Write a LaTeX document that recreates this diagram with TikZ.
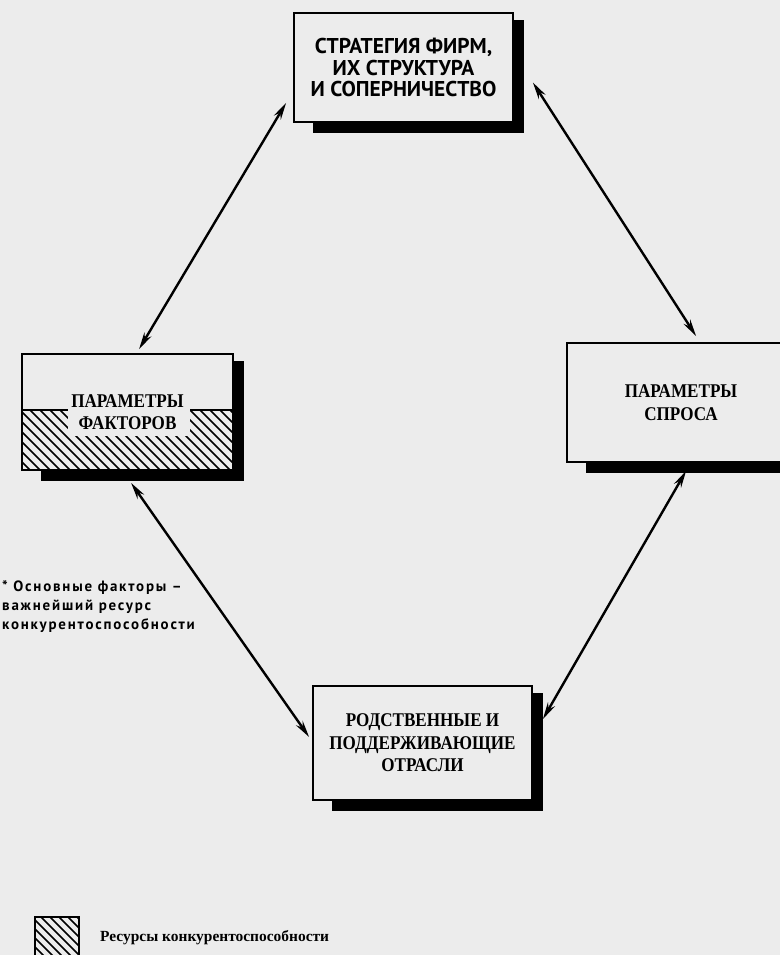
\documentclass[tikz,border=0pt]{standalone}
\usepackage{fontspec}
\setmainfont{Liberation Serif}
\newfontfamily\ptsans{PT Sans}
\newfontfamily\boxserif[FakeStretch=0.88]{Liberation Serif}
\newfontfamily\notefont[LetterSpace=12]{PT Sans}
\usetikzlibrary{arrows.meta,calc}
\definecolor{paper}{RGB}{236,236,236}
\newcommand\boxshadow[1]{%
  \fill[black] ($(#1.north east)+(0,8)$) rectangle ($(#1.south east)+(10,10)$);
  \fill[black] ($(#1.south west)+(20,0)$) rectangle ($(#1.south east)+(10,10)$);}
\begin{document}
\begin{tikzpicture}[x=1bp,y=-1bp,
  box/.style={draw=black, line width=1.8bp, rectangle, align=center,
    inner sep=0pt, font=\boxserif\bfseries\fontsize{19.5}{22.5}\selectfont},
  topfont/.style={font=\ptsans\bfseries\fontsize{21.5}{22}\selectfont},
  conn/.style={line width=2.4bp, {Stealth[length=17bp,width=8bp]}-{Stealth[length=17bp,width=8bp]}},
  hatchline/.style={line width=1.6bp},
  note/.style={font=\notefont\bfseries\fontsize{15}{19.5}\selectfont, align=left, inner sep=0pt},
  legendtext/.style={font=\bfseries\fontsize{15.5}{17}\selectfont, inner sep=0pt}]
\fill[paper] (0,0) rectangle (780,955);
\useasboundingbox (0,0) rectangle (780,955);
\clip (0,0) rectangle (780,955);

% hatching of the factor box (drawn beneath the box)
\begin{scope}
  \clip (22,410) rectangle (233,470);
  \foreach \k in {-80,-70,...,240} {\draw[hatchline] (\k,410) -- (\k+60,470);}
\end{scope}
\fill[paper] (68,410) rectangle (190,436);
\draw[line width=1.4bp] (22,410) -- (68,410) (190,410) -- (233,410);

% boxes
\node[box, topfont, minimum width=219bp, minimum height=109bp] (strat) at (403.5,67.5)
  {СТРАТЕГИЯ ФИРМ,\\ИХ СТРУКТУРА\\И СОПЕРНИЧЕСТВО};
\node[box, minimum width=211bp, minimum height=116bp] (fact) at (127.5,412)
  {ПАРАМЕТРЫ\\ФАКТОРОВ};
\node[box, minimum width=228bp, minimum height=119bp] (dem) at (681,402.5)
  {ПАРАМЕТРЫ\\СПРОСА};
\node[box, minimum width=219bp, minimum height=114bp] (rel) at (422.5,743)
  {РОДСТВЕННЫЕ И\\ПОДДЕРЖИВАЮЩИЕ\\ОТРАСЛИ};

\boxshadow{strat}
\boxshadow{fact}
\boxshadow{dem}
\boxshadow{rel}

% connectors
\coordinate (s1) at ($(strat.south west)+(-7,-20)$);
\coordinate (f1) at ($(fact.north west)+(118,-4)$);
\coordinate (s2) at ($(strat.east)+(19,15)$);
\coordinate (d1) at ($(dem.north west)+(130,-6)$);
\coordinate (f2) at ($(fact.south west)+(110,12)$);
\coordinate (r1) at ($(rel.west)+(-3,-6)$);
\coordinate (d2) at ($(dem.south west)+(120,8)$);
\coordinate (r2) at ($(rel.north east)+(10,34)$);
\draw[conn] (s1) -- (f1);
\draw[conn] (s2) -- (d1);
\draw[conn] (f2) -- (r1);
\draw[conn] (d2) -- (r2);

% footnote
\node[note, anchor=north west] (fn) at (2,580)
  {* Основные факторы –\\важнейший ресурс\\конкурентоспособности};

% legend
\begin{scope}
  \clip (35,917) rectangle (79,961);
  \foreach \k in {-40,-31,...,90} {\draw[hatchline] (\k,917) -- (\k+44,961);}
\end{scope}
\node[draw=black, line width=1.6bp, minimum width=44bp, minimum height=44bp, inner sep=0pt]
  (leg) at (57,939) {};
\node[legendtext, anchor=west] (legt) at (100,938) {Ресурсы конкурентоспособности};
\end{tikzpicture}
\end{document}
